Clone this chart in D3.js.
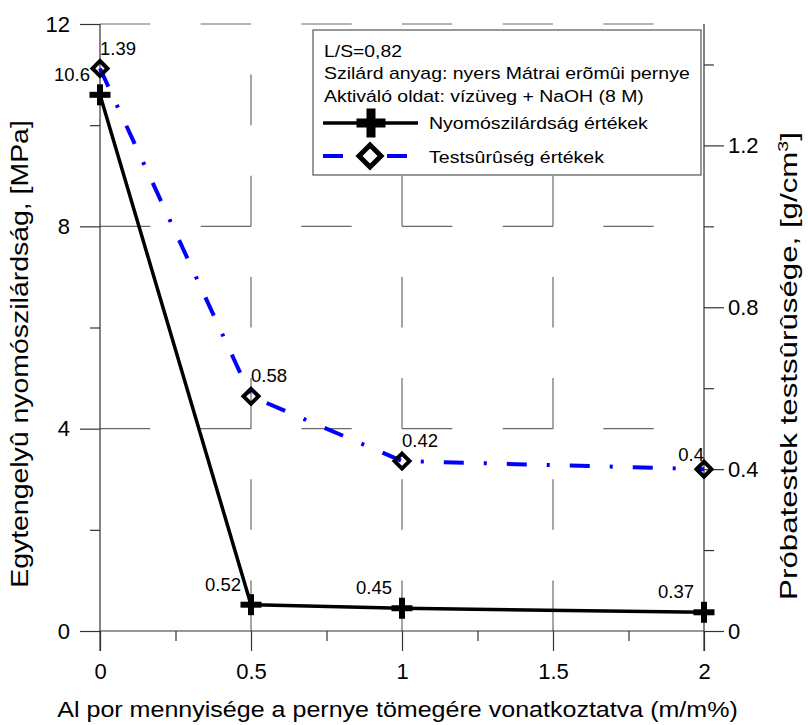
<!DOCTYPE html>
<html>
<head>
<meta charset="utf-8">
<script src="https://cdn.jsdelivr.net/npm/d3@7/dist/d3.min.js"></script>
<style>
  html, body { margin: 0; padding: 0; background: #fff; }
  svg { display: block; font-family: "Liberation Sans", Arial, sans-serif; }
</style>
</head>
<body>
<svg id="chart" width="808" height="725"></svg>
<script>
// ---- data ----
const xValues = [0, 0.5, 1, 2];
const strengthValues = [10.6, 0.52, 0.45, 0.37];
const densityValues = [1.39, 0.58, 0.42, 0.40];
const strengthLabels = ["10.6", "0.52", "0.45", "0.37"];
const densityLabels = ["1.39", "0.58", "0.42", "0.4"];
const xTicks = [0, 0.5, 1, 1.5, 2];
const xMinorTicks = [0.25, 0.75, 1.25, 1.75];
const leftTicks = [0, 4, 8, 12];
const leftMinorTicks = [2, 6, 10];
const rightTicks = [0, 0.4, 0.8, 1.2];
const rightMinorTicks = [0.2, 0.6, 1.0, 1.4];
const legendInfo = ["L/S=0,82", "Szilárd anyag: nyers Mátrai erõmûi pernye", "Aktiváló oldat: vízüveg + NaOH (8 M)"];
const seriesNames = ["Nyomószilárdság értékek", "Testsûrûség értékek"];
const xTitle = "Al por mennyisége a pernye tömegére vonatkoztatva (m/m%)";
const yLeftTitle = "Egytengelyû nyomószilárdság, [MPa]";
const yRightTitle = "Próbatestek testsûrûsége, [g/cm";

// ---- layout ----
const L = 100, R = 704, T = 24, B = 631;
const svg = d3.select("#chart");
const x = d3.scaleLinear().domain([0, 2]).range([L, R]);
const yL = d3.scaleLinear().domain([0, 12]).range([B, T]);
const yR = d3.scaleLinear().domain([0, 1.5]).range([B, T]);

const gridColor = "#6a6a6a", axisColor = "#333";

// grid: horizontal (dashes starting from the left)
const hDash = (R - L) / 12;
svg.append("g").selectAll("line").data(leftTicks.filter(d => d > 0)).join("line")
  .attr("x1", L).attr("x2", R).attr("y1", d => yL(d)).attr("y2", d => yL(d))
  .attr("stroke", gridColor).attr("stroke-width", 1.2)
  .attr("stroke-dasharray", `${hDash},${hDash}`);
// grid: vertical (dashes starting from the bottom)
const vDash = (B - T) / 12;
svg.append("g").selectAll("line").data(xTicks.filter(d => d > 0 && d < 2)).join("line")
  .attr("x1", d => x(d)).attr("x2", d => x(d)).attr("y1", B).attr("y2", T)
  .attr("stroke", gridColor).attr("stroke-width", 1.2)
  .attr("stroke-dasharray", `${vDash},${vDash}`);

// axes
function styleAxis(g) {
  g.select(".domain").remove();
  g.selectAll(".tick line").attr("stroke", axisColor).attr("stroke-width", 1.2);
  g.selectAll(".tick text").attr("fill", "#000").style("font-size", "22px")
    .style("font-family", "'Liberation Sans', Arial, sans-serif");
}
svg.append("g").attr("transform", `translate(0,${B})`)
  .call(d3.axisBottom(x).tickValues(xTicks).tickSize(20).tickPadding(12).tickFormat(d3.format("")))
  .call(styleAxis);
svg.append("g").attr("transform", `translate(0,${B})`)
  .call(d3.axisBottom(x).tickValues(xMinorTicks).tickSize(10).tickFormat(""))
  .call(styleAxis);
svg.append("g").attr("transform", `translate(${L},0)`)
  .call(d3.axisLeft(yL).tickValues(leftTicks).tickSize(20).tickPadding(10).tickFormat(d3.format("")))
  .call(styleAxis);
svg.append("g").attr("transform", `translate(${L},0)`)
  .call(d3.axisLeft(yL).tickValues(leftMinorTicks).tickSize(10).tickFormat(""))
  .call(styleAxis);
svg.append("g").attr("transform", `translate(${R},0)`)
  .call(d3.axisRight(yR).tickValues(rightTicks).tickSize(20).tickPadding(4).tickFormat(d3.format("")))
  .call(styleAxis);
svg.append("g").attr("transform", `translate(${R},0)`)
  .call(d3.axisRight(yR).tickValues(rightMinorTicks).tickSize(10).tickFormat(""))
  .call(styleAxis);
// axis lines
svg.append("line").attr("x1", L).attr("x2", L).attr("y1", T).attr("y2", B + 20).attr("stroke", axisColor).attr("stroke-width", 1.2);
svg.append("line").attr("x1", R).attr("x2", R).attr("y1", T).attr("y2", B + 20).attr("stroke", axisColor).attr("stroke-width", 1.2);
svg.append("line").attr("x1", L).attr("x2", R).attr("y1", B).attr("y2", B).attr("stroke", axisColor).attr("stroke-width", 1.2);

// fit helper: scale text horizontally to a target width
function fit(textSel, target, x0, y0, rot) {
  const w = textSel.node().getComputedTextLength();
  const s = target / w;
  textSel.attr("transform", `translate(${x0},${y0})${rot ? " rotate(" + rot + ")" : ""} scale(${s},1)`);
}

// titles
const xt = svg.append("text").attr("text-anchor", "middle").style("font-size", "23px").text(xTitle);
fit(xt, 681, 397.5, 717);
const ylt = svg.append("text").attr("text-anchor", "middle").style("font-size", "24px").text(yLeftTitle);
fit(ylt, 468, 28, 354, -90);
const yrt = svg.append("text").attr("text-anchor", "middle").style("font-size", "24px");
yrt.append("tspan").text(yRightTitle);
yrt.append("tspan").attr("dy", -9).style("font-size", "15px").text("3");
yrt.append("tspan").attr("dy", 9).text("]");
fit(yrt, 468, 797, 366, -90);

// series
const pts = xValues.map((v, i) => ({ x: v, s: strengthValues[i], d: densityValues[i], i }));
const densLine = d3.line().x(d => x(d.x)).y(d => yR(d.d));
const strLine = d3.line().x(d => x(d.x)).y(d => yL(d.s));
svg.append("path").attr("d", densLine(pts)).attr("fill", "none").attr("stroke", "#0000ff")
  .attr("stroke-width", 4).attr("stroke-dasharray", "20,20,3,20");
svg.append("path").attr("d", strLine(pts)).attr("fill", "none").attr("stroke", "#000")
  .attr("stroke-width", 3.5);

function plus(g, cx, cy, size, th) {
  g.append("rect").attr("x", cx - size / 2).attr("y", cy - th / 2).attr("width", size).attr("height", th).attr("fill", "#000");
  g.append("rect").attr("x", cx - th / 2).attr("y", cy - size / 2).attr("width", th).attr("height", size).attr("fill", "#000");
}
function diamond(g, cx, cy, r, sw) {
  g.append("path").attr("d", `M${cx},${cy - r}L${cx + r},${cy}L${cx},${cy + r}L${cx - r},${cy}Z`)
    .attr("fill", "none").attr("stroke", "#000").attr("stroke-width", sw);
}
const mk = svg.append("g");
pts.forEach(p => diamond(mk, x(p.x), yR(p.d), 7.5, 4));
pts.forEach(p => plus(mk, x(p.x), yL(p.s), 21, 6));

// data labels
const lab = svg.append("g").style("font-size", "18.5px");
pts.forEach(p => {
  lab.append("text").attr("text-anchor", "end")
    .attr("x", x(p.x) - 10).attr("y", yL(p.s) - 14).text(strengthLabels[p.i]);
  const last = p.i === pts.length - 1;
  lab.append("text").attr("text-anchor", last ? "end" : "start")
    .attr("x", x(p.x)).attr("y", yR(p.d) - (last ? 8 : 14)).text(densityLabels[p.i]);
});

// legend
const lg = svg.append("g");
lg.append("rect").attr("x", 313).attr("y", 30).attr("width", 388).attr("height", 145)
  .attr("fill", "#fff").attr("stroke", "#555").attr("stroke-width", 1.2);
const infoWidths = [78, 366, 320];
const infoY = [57, 79, 102];
legendInfo.forEach((t, i) => {
  const tx = lg.append("text").style("font-size", "16px").text(t);
  fit(tx, infoWidths[i], 324, infoY[i]);
});
lg.append("line").attr("x1", 323).attr("x2", 418).attr("y1", 123).attr("y2", 123).attr("stroke", "#000").attr("stroke-width", 3.5);
plus(lg, 371, 123, 29, 9);
lg.append("line").attr("x1", 323).attr("x2", 343).attr("y1", 156).attr("y2", 156).attr("stroke", "#0000ff").attr("stroke-width", 4);
lg.append("line").attr("x1", 387).attr("x2", 407).attr("y1", 156).attr("y2", 156).attr("stroke", "#0000ff").attr("stroke-width", 4);
diamond(lg, 370, 156, 11, 5);
const sw = [219, 175], sy = [129, 163];
seriesNames.forEach((t, i) => {
  const tx = lg.append("text").style("font-size", "16px").text(t);
  fit(tx, sw[i], 429, sy[i]);
});
</script>
</body>
</html>
